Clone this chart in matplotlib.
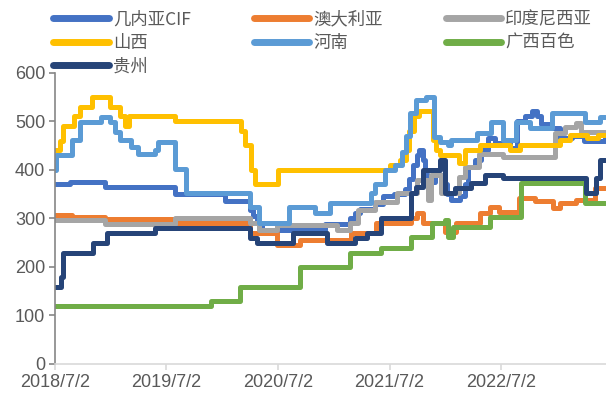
import pandas as pd
import matplotlib
matplotlib.use('Agg')
import matplotlib.pyplot as plt

# step series: value holds from each date until the next one
guinea_dates = ['2018-07-02', '2018-08-20', '2018-12-13', '2019-07-29', '2020-01-09', '2020-03-31',
                '2020-04-10', '2020-04-25', '2020-05-10', '2020-12-02', '2021-02-22', '2021-03-10',
                '2021-03-27', '2021-05-15', '2021-06-10', '2021-07-18', '2021-08-20', '2021-09-05',
                '2021-09-18', '2021-10-01', '2021-10-08', '2021-10-18', '2021-10-25', '2021-11-05',
                '2021-11-27', '2021-12-18', '2022-01-05', '2022-01-20', '2022-02-17', '2022-03-05',
                '2022-03-15', '2022-04-07', '2022-04-28', '2022-05-20', '2022-06-12', '2022-07-31',
                '2022-08-25', '2022-09-18', '2022-10-10', '2022-10-28', '2022-11-10', '2022-12-09',
                '2023-01-11', '2023-02-20', '2023-04-01', '2023-06-08']
guinea_vals = [370, 375, 365, 350, 335, 318, 305, 290, 275, 288, 300, 310,
               320, 330, 345, 350, 360, 380, 410, 430, 440, 420, 390, 375,
               390, 370, 350, 338, 345, 370, 405, 420, 440, 465, 455, 445,
               500, 510, 520, 510, 495, 485, 465, 470, 460, 465]

aus_dates = ['2018-07-02', '2018-08-25', '2018-12-13', '2019-07-29', '2020-03-31', '2020-06-28',
             '2020-09-11', '2021-02-27', '2021-05-20', '2021-09-10', '2021-10-01', '2021-10-20',
             '2021-12-29', '2022-02-03', '2022-04-24', '2022-05-26', '2022-06-25', '2022-08-30',
             '2022-10-20', '2022-12-20', '2023-01-11', '2023-03-05', '2023-05-06', '2023-06-08']
aus_vals = [307, 303, 298, 290, 270, 245, 255, 270, 290, 300, 310, 290,
            272, 290, 310, 323, 313, 342, 335, 322, 332, 338, 362, 362]

indo_dates = ['2018-07-02', '2018-12-13', '2019-07-29', '2020-03-31', '2020-04-30', '2020-06-28',
              '2021-01-10', '2021-02-22', '2021-03-20', '2021-05-15', '2021-07-25', '2021-10-01',
              '2021-11-06', '2021-11-16', '2021-12-19', '2022-02-13', '2022-03-05', '2022-04-20',
              '2022-07-08', '2022-12-26', '2023-01-28', '2023-03-05', '2023-03-21', '2023-06-08']
indo_vals = [297, 288, 300, 290, 276, 286, 276, 290, 317, 333, 352, 379,
             338, 389, 352, 385, 406, 433, 427, 476, 488, 496, 478, 478]

shanxi_dates = ['2018-07-02', '2018-07-18', '2018-07-28', '2018-09-01', '2018-09-22', '2018-10-30',
                '2018-12-29', '2019-01-31', '2019-02-17', '2019-03-01', '2019-07-29', '2020-03-01',
                '2020-03-15', '2020-04-05', '2020-04-17', '2020-06-30', '2021-07-02', '2021-08-04',
                '2021-08-25', '2021-09-05', '2021-09-20', '2021-10-05', '2021-11-21', '2021-12-01',
                '2021-12-13', '2022-02-15', '2022-03-05', '2022-04-24', '2022-07-31', '2022-09-02',
                '2023-01-11', '2023-02-13', '2023-04-10', '2023-05-15', '2023-06-08']
shanxi_vals = [440, 460, 490, 510, 530, 550, 530, 510, 490, 510, 500, 480,
               450, 400, 370, 400, 410, 420, 440, 480, 510, 520, 461, 441,
               430, 413, 441, 451, 441, 451, 461, 472, 465, 472, 472]

henan_dates = ['2018-07-02', '2018-07-05', '2018-08-25', '2018-09-22', '2018-12-01', '2018-12-29',
               '2019-01-15', '2019-01-31', '2019-03-08', '2019-03-30', '2019-05-26', '2019-06-05',
               '2019-07-29', '2019-09-05', '2020-03-31', '2020-04-30', '2020-08-05', '2020-10-30',
               '2020-12-18', '2021-05-01', '2021-05-15', '2021-06-17', '2021-07-20', '2021-08-12',
               '2021-08-25', '2021-09-08', '2021-09-28', '2021-10-28', '2021-11-24', '2021-12-13',
               '2022-01-10', '2022-01-20', '2022-04-15', '2022-05-30', '2022-07-10', '2022-08-20',
               '2022-10-05', '2022-12-15', '2023-04-03', '2023-05-22', '2023-06-08']
henan_vals = [400, 430, 461, 499, 509, 499, 478, 461, 447, 432, 441, 457,
              401, 352, 323, 290, 323, 310, 331, 352, 370, 400, 410, 437,
              470, 517, 544, 550, 468, 457, 450, 461, 476, 498, 461, 498,
              486, 517, 498, 509, 509]

baise_dates = ['2018-07-02', '2019-11-24', '2020-02-27', '2020-09-11', '2021-02-22', '2021-06-05',
               '2021-09-10', '2021-11-18', '2021-12-29', '2022-01-10', '2022-01-25', '2022-05-26',
               '2022-09-07', '2023-04-03', '2023-06-08']
baise_vals = [120, 130, 159, 200, 229, 239, 262, 290, 297, 262, 282, 303,
              372, 331, 331]

guizhou_dates = ['2018-07-02', '2018-07-20', '2018-07-28', '2018-11-05', '2018-12-20', '2019-05-26',
                 '2020-03-31', '2020-04-25', '2020-08-20', '2020-12-10', '2021-03-10', '2021-04-20',
                 '2021-06-05', '2021-09-10', '2021-09-28', '2021-10-20', '2021-12-13', '2021-12-29',
                 '2022-02-01', '2022-03-25', '2022-05-10', '2022-07-08', '2023-04-05', '2023-05-08',
                 '2023-05-22', '2023-06-08']
guizhou_vals = [159, 179, 229, 249, 270, 280, 260, 249, 270, 249, 260, 270,
                300, 352, 365, 400, 420, 352, 362, 373, 389, 383, 352, 383,
                420, 420]

series = [
    ('几内亚CIF', guinea_dates, guinea_vals, '#4472C4'),
    ('澳大利亚', aus_dates, aus_vals, '#ED7D31'),
    ('印度尼西亚', indo_dates, indo_vals, '#A5A5A5'),
    ('山西', shanxi_dates, shanxi_vals, '#FFC000'),
    ('河南', henan_dates, henan_vals, '#5B9BD5'),
    ('广西百色', baise_dates, baise_vals, '#70AD47'),
    ('贵州', guizhou_dates, guizhou_vals, '#264478'),
]

year_ticks = ['2018-07-02', '2019-07-02', '2020-07-02', '2021-07-02', '2022-07-02']
tick_labels = ['2018/7/2', '2019/7/2', '2020/7/2', '2021/7/2', '2022/7/2']

plt.rcParams['font.family'] = ['Liberation Sans', 'DejaVu Sans']

fig = plt.figure(figsize=(6.06, 4.01), dpi=100)
ax = fig.add_axes([0.0908, 0.0925, 0.9092, 0.7265])

lines = {}
for name, d, v, c in series:
    ln, = ax.plot(pd.to_datetime(d), v, drawstyle='steps-post', color=c, lw=3.6,
                  solid_joinstyle='round', solid_capstyle='round', label=name)
    lines[name] = ln

ax.set_ylim(0, 600)
ax.set_yticks(range(0, 601, 100))
ax.set_xlim(pd.Timestamp('2018-07-02'), pd.Timestamp('2023-06-11'))
ax.set_xticks(pd.to_datetime(year_ticks))
ax.set_xticklabels(tick_labels)

for s in ['top', 'right']:
    ax.spines[s].set_visible(False)
ax.spines['left'].set_color('#868686')
ax.spines['left'].set_linewidth(1.2)
ax.spines['bottom'].set_color('#D9D9D9')
ax.spines['bottom'].set_linewidth(1.2)
ax.tick_params(axis='y', colors='#868686', labelcolor='#595959', labelsize=13, length=4, width=1.2, pad=3)
ax.tick_params(axis='x', colors='#D9D9D9', labelcolor='#595959', labelsize=13, length=4, width=1.2, pad=3)

# Excel fills the legend row by row, matplotlib column by column
order = ['几内亚CIF', '山西', '贵州', '澳大利亚', '河南', '印度尼西亚', '广西百色']
leg = fig.legend([lines[n] for n in order], order, ncol=3, loc='upper left',
                 bbox_to_anchor=(0.068, 1.005), frameon=False,
                 prop={'family': ['Noto Sans CJK SC', 'DejaVu Sans'], 'size': 12.5},
                 handlelength=3.2, handletextpad=0.25, columnspacing=3.6,
                 labelspacing=0.32, borderaxespad=0.3)
for h in leg.legend_handles:
    h.set_linewidth(5)
    h.set_solid_capstyle('round')
for t in leg.get_texts():
    t.set_color('#595959')

plt.savefig('out.png', dpi=100)
